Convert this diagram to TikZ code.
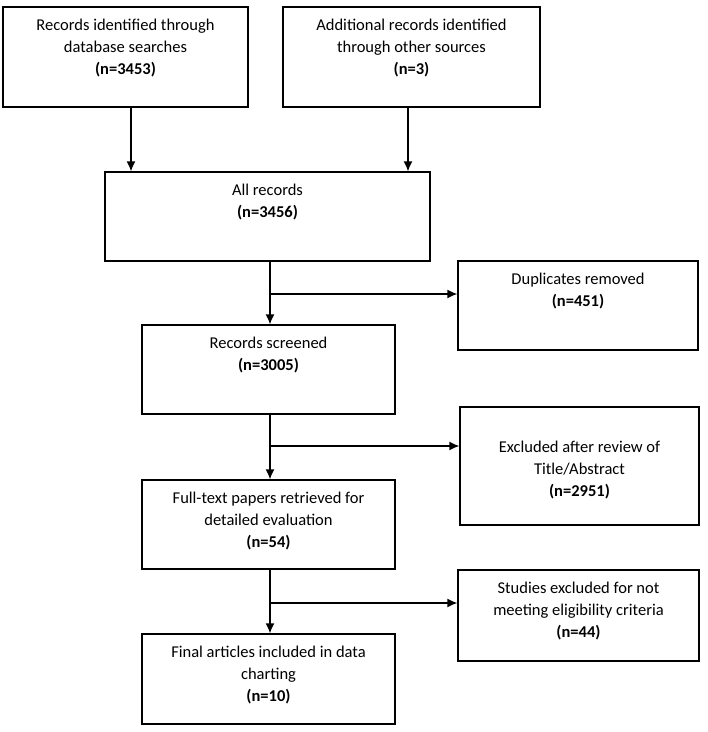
\documentclass[tikz,border=0pt]{standalone}
\usepackage{fontspec}
\setmainfont{Carlito}
\usetikzlibrary{positioning,arrows.meta}
\begin{document}
\begin{tikzpicture}[x=1pt,y=-1pt]
\tikzset{ >={Latex[length=10pt,width=9pt]}, box/.style={draw, line width=1.3pt, inner sep=0pt}, txt/.style={align=center, inner sep=0pt, anchor=north, font=\fontsize{16.5}{22}\selectfont}, link/.style={->, line width=1.3pt} }

\useasboundingbox (0,0) rectangle (708,732);

% boxes
\node [box, minimum width=245, minimum height=100] (db)    at (125.5,57)  {};
\node [box, minimum width=257, minimum height=100] (other) at (411.5,57)  {};
\node [box, minimum width=325, minimum height=89]  (all)   at (267.5,216.5) {};
\node [box, minimum width=240, minimum height=89]  (dup)   at (578,305.5) {};
\node [box, minimum width=253, minimum height=89]  (scr)   at (268.5,369.5) {};
\node [box, minimum width=239, minimum height=118] (excl)  at (579.5,466) {};
\node [box, minimum width=253, minimum height=89]  (full)  at (268.5,524.5) {};
\node [box, minimum width=241, minimum height=91]  (stud)  at (578.5,615.5) {};
\node [box, minimum width=253, minimum height=90]  (final) at (268.5,679) {};

% texts
\node [txt, below=12pt of db.north]    (dbtext)    {Records identified through\\database searches\\\textbf{(n=3453)}};
\node [txt, below=12pt of other.north] (othertext) {Additional records identified\\through other sources\\\textbf{(n=3)}};
\node [txt, below=12pt of all.north]   (alltext)   {All records\\\textbf{(n=3456)}};
\node [txt, below=12pt of dup.north]   (duptext)   {Duplicates removed\\\textbf{(n=451)}};
\node [txt, below=12pt of scr.north]   (scrtext)   {Records screened\\\textbf{(n=3005)}};
\node [txt, below=34pt of excl.north]  (excltext)  {Excluded after review of\\Title/Abstract\\\textbf{(n=2951)}};
\node [txt, below=12pt of full.north]  (fulltext)  {Full-text papers retrieved for\\detailed evaluation\\\textbf{(n=54)}};
\node [txt, below=12pt of stud.north]  (studtext)  {Studies excluded for not\\meeting eligibility criteria\\\textbf{(n=44)}};
\node [txt, below=12pt of final.north] (finaltext) {Final articles included in data\\charting\\\textbf{(n=10)}};

% connectors
\coordinate (s0) at (131,0);
\coordinate (s9) at (408,0);
\coordinate (s1) at (270,294);
\coordinate (s2) at (270,446);
\coordinate (s3) at (270,603);

\draw [link] (db.south -| s0)    -- (all.north -| s0);
\draw [link] (other.south -| s9) -- (all.north -| s9);

\draw [link] (all.south -| s1)  -- (scr.north -| s1);
\draw [link] (s1) -- (s1 -| dup.west);
\draw [link] (scr.south -| s2)  -- (full.north -| s2);
\draw [link] (s2) -- (s2 -| excl.west);
\draw [link] (full.south -| s3) -- (final.north -| s3);
\draw [link] (s3) -- (s3 -| stud.west);

\end{tikzpicture}
\end{document}
